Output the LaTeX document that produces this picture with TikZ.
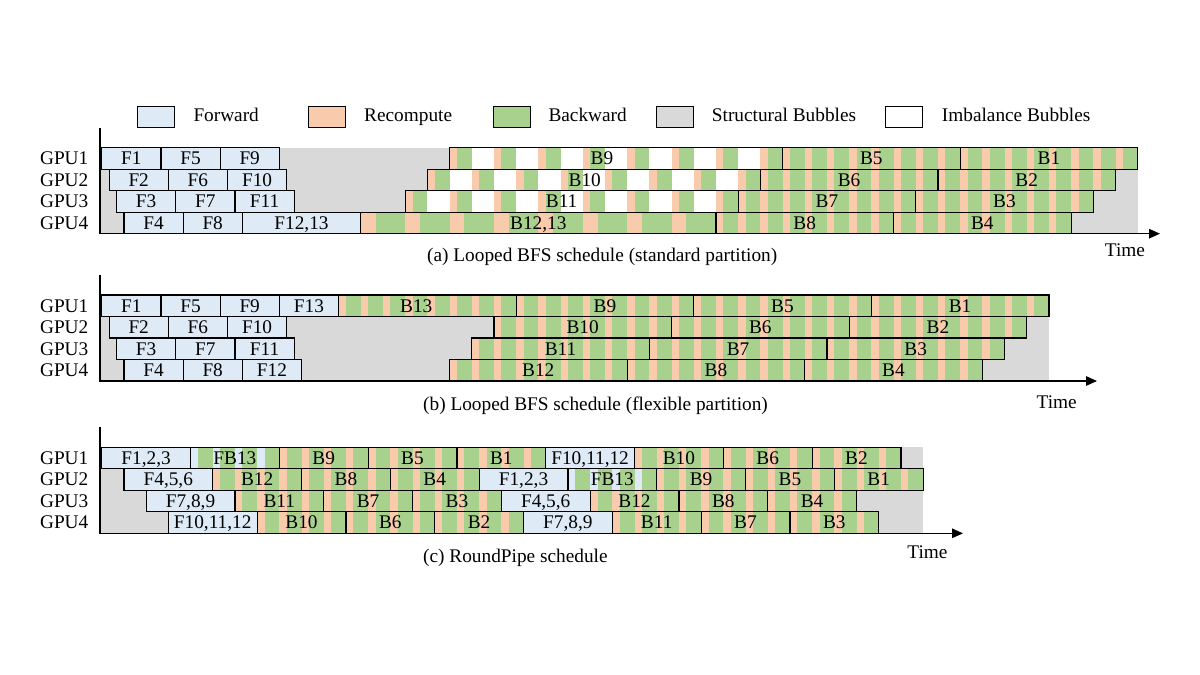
\documentclass[tikz,border=0pt]{standalone}
\usepackage{fontspec}
\setmainfont{Liberation Serif}
\usetikzlibrary{arrows.meta}
\definecolor{fwdc}{RGB}{222,235,247}
\definecolor{recc}{RGB}{248,203,173}
\definecolor{bwdc}{RGB}{169,209,142}
\definecolor{strc}{RGB}{217,217,217}
\pgfdeclarelayer{back}
\pgfdeclarelayer{bg}
\pgfsetlayers{back,bg,main}
\tikzset{
  txt/.style={font=\fontsize{19.3}{22}\selectfont, inner sep=0pt},
  lbl/.style={txt, text height=12.7pt, text depth=0pt},
  blk/.style={lbl, draw=black, line width=1.2pt},
  legbox/.style={draw=black, line width=1.2pt, minimum width=37pt, minimum height=20.5pt, inner sep=0pt},
  axisline/.style={line width=1.3pt},
}
% forward block: name, start, end, row, label
\newcommand{\Fblk}[5]{\node[blk, fill=fwdc, minimum width={((#3)-(#2))*7.4pt}, minimum height=21.5pt] (#1) at ({((#2)+(#3))/2},{(#4)+0.5}) {#5};}
% green base fill: start, end, row
\newcommand{\Gfill}[3]{\begin{pgfonlayer}{bg}\fill[bwdc] (#1,#3) rectangle ({#2},{#3+1});\end{pgfonlayer}}
% stripes: start, row, period, width, last index, colour
\newcommand{\Stripes}[6]{\begin{pgfonlayer}{bg}\foreach \k in {0,...,#5}{\fill[#6] ({#1+#3*\k},#2) rectangle ({#1+#3*\k+#4},{#2+1});}\end{pgfonlayer}}
% outline and label: name, start, end, row, label, xshift
\newcommand{\Bout}[6]{\node[blk, minimum width={((#3)-(#2))*7.4pt}, minimum height=21.5pt] (#1) at ({((#2)+(#3))/2},{(#4)+0.5}) {};
  \node[lbl, xshift=#6] (#1-t) at (#1.center) {#5};}
\newcommand{\Bns}[5]{\Gfill{#2}{#2+24}{#3}\Stripes{#2}{#3}{3}{1}{7}{recc}\Bout{#1}{#2}{#2+24}{#3}{#4}{#5}}
\newcommand{\Bn}[4]{\Bns{#1}{#2}{#3}{#4}{0pt}}
\newcommand{\Bc}[4]{\Gfill{#2}{#2+12}{#3}\Stripes{#2}{#3}{3}{1}{3}{recc}\Bout{#1}{#2}{#2+12}{#3}{#4}{0pt}}
\newcommand{\FBc}[4]{\Gfill{#2}{#2+12}{#3}\Stripes{#2}{#3}{3}{1}{3}{fwdc}\Bout{#1}{#2}{#2+12}{#3}{#4}{0pt}}
\newcommand{\Bbig}[4]{\Gfill{#2}{#2+48}{#3}\Stripes{#2}{#3}{6}{2}{7}{recc}\Bout{#1}{#2}{#2+48}{#3}{#4}{0pt}}
\newcommand{\Bimb}[5]{\Gfill{#2}{#2+45}{#3}\Stripes{#2}{#3}{6}{1}{7}{recc}\Stripes{#2+3}{#3}{6}{3}{6}{white}\Bout{#1}{#2}{#2+45}{#3}{#4}{#5}}

\begin{document}
\begin{tikzpicture}[x=1pt,y=-1pt]
\useasboundingbox (0,0) rectangle (1200,675);
\begin{pgfonlayer}{back}
\fill[white] (0,0) rectangle (1200,675);
\end{pgfonlayer}

% ---------------- legend
\node[legbox, fill=fwdc] (lg-f) at (155.8,117) {};
\node[txt, anchor=base west] (lg-ft) at (193.3,121.3) {Forward};
\node[legbox, fill=recc] (lg-r) at (327,117) {};
\node[txt, anchor=base west] (lg-rt) at (364,121.3) {Recompute};
\node[legbox, fill=bwdc] (lg-b) at (511.7,117) {};
\node[txt, anchor=base west] (lg-bt) at (548.3,121.3) {Backward};
\node[legbox, fill=strc] (lg-s) at (675,117) {};
\node[txt, anchor=base west] (lg-st) at (711.7,121.3) {Structural Bubbles};
\node[legbox, fill=white] (lg-i) at (904.2,117) {};
\node[txt, anchor=base west] (lg-it) at (941.7,121.3) {Imbalance Bubbles};

% ---------------- panel (a)
\begin{scope}[shift={(101.7pt,-147.7pt)}, x=7.4pt, y=-21.5pt]
\begin{pgfonlayer}{back}\fill[strc] (-0.25,0) rectangle (140,4);\end{pgfonlayer}
\foreach \r in {1,...,4} \node[lbl, anchor=east] (a-gpu\r) at (-1.78,\r-0.5) {GPU\r};
\Fblk{a-F1}{0}{8}{0}{F1}\Fblk{a-F5}{8}{16}{0}{F5}\Fblk{a-F9}{16}{24}{0}{F9}
\Fblk{a-F2}{1}{9}{1}{F2}\Fblk{a-F6}{9}{17}{1}{F6}\Fblk{a-F10}{17}{25}{1}{F10}
\Fblk{a-F3}{2}{10}{2}{F3}\Fblk{a-F7}{10}{18}{2}{F7}\Fblk{a-F11}{18}{26}{2}{F11}
\Fblk{a-F4}{3}{11}{3}{F4}\Fblk{a-F8}{11}{19}{3}{F8}\Fblk{a-F1213}{19}{35}{3}{F12,13}
\Bimb{a-B9}{47}{0}{B9}{-14pt}
\Bimb{a-B10}{44}{1}{B10}{-9pt}
\Bimb{a-B11}{41}{2}{B11}{-10pt}
\Bbig{a-B1213}{35}{3}{B12,13}
\Bn{a-B5}{92}{0}{B5}\Bn{a-B1}{116}{0}{B1}
\Bn{a-B6}{89}{1}{B6}\Bn{a-B2}{113}{1}{B2}
\Bn{a-B7}{86}{2}{B7}\Bn{a-B3}{110}{2}{B3}
\Bn{a-B8}{83}{3}{B8}\Bn{a-B4}{107}{3}{B4}
\end{scope}
\coordinate (a-top) at (100,128);
\coordinate (a-o) at (100,233.7);
\coordinate (a-end) at (1160,233.7);
\draw[axisline, -{Triangle[length=11pt,width=9.5pt]}] (a-top) -- (a-o) -- (a-end);
\node[txt, anchor=base] (a-time) at (1125,256.5) {Time};
\node[txt, anchor=base west] (a-cap) at (427,261) {(a) Looped BFS schedule (standard partition)};

% ---------------- panel (b)
\begin{scope}[shift={(101.7pt,-295pt)}, x=7.4pt, y=-21.5pt]
\begin{pgfonlayer}{back}\fill[strc] (-0.25,0) rectangle (128,4);\end{pgfonlayer}
\foreach \r in {1,...,4} \node[lbl, anchor=east] (b-gpu\r) at (-1.78,\r-0.5) {GPU\r};
\Fblk{b-F1}{0}{8}{0}{F1}\Fblk{b-F5}{8}{16}{0}{F5}\Fblk{b-F9}{16}{24}{0}{F9}\Fblk{b-F13}{24}{32}{0}{F13}
\Fblk{b-F2}{1}{9}{1}{F2}\Fblk{b-F6}{9}{17}{1}{F6}\Fblk{b-F10}{17}{25}{1}{F10}
\Fblk{b-F3}{2}{10}{2}{F3}\Fblk{b-F7}{10}{18}{2}{F7}\Fblk{b-F11}{18}{26}{2}{F11}
\Fblk{b-F4}{3}{11}{3}{F4}\Fblk{b-F8}{11}{19}{3}{F8}\Fblk{b-F12}{19}{27}{3}{F12}
\Bns{b-B13}{32}{0}{B13}{-11pt}\Bn{b-B9}{56}{0}{B9}\Bn{b-B5}{80}{0}{B5}\Bn{b-B1}{104}{0}{B1}
\Bn{b-B10}{53}{1}{B10}\Bn{b-B6}{77}{1}{B6}\Bn{b-B2}{101}{1}{B2}
\Bn{b-B11}{50}{2}{B11}\Bn{b-B7}{74}{2}{B7}\Bn{b-B3}{98}{2}{B3}
\Bn{b-B12}{47}{3}{B12}\Bn{b-B8}{71}{3}{B8}\Bn{b-B4}{95}{3}{B4}
\end{scope}
\coordinate (b-top) at (100,275);
\coordinate (b-o) at (100,381);
\coordinate (b-end) at (1097,381);
\draw[axisline, -{Triangle[length=11pt,width=9.5pt]}] (b-top) -- (b-o) -- (b-end);
\node[txt, anchor=base] (b-time) at (1056.7,408.3) {Time};
\node[txt, anchor=base west] (b-cap) at (423,410.5) {(b) Looped BFS schedule (flexible partition)};

% ---------------- panel (c)
\begin{scope}[shift={(101.7pt,-447.3pt)}, x=7.4pt, y=-21.5pt]
\begin{pgfonlayer}{back}\fill[strc] (-0.25,0) rectangle (111,4);\end{pgfonlayer}
\foreach \r in {1,...,4} \node[lbl, anchor=east] (c-gpu\r) at (-1.78,\r-0.5) {GPU\r};
% GPU1
\Fblk{c1-F123}{0}{12}{0}{F1,2,3}\FBc{c1-FB13}{12}{0}{FB13}\Bc{c1-B9}{24}{0}{B9}\Bc{c1-B5}{36}{0}{B5}\Bc{c1-B1}{48}{0}{B1}
\Fblk{c1-F101112}{60}{72}{0}{F10,11,12}\Bc{c1-B10}{72}{0}{B10}\Bc{c1-B6}{84}{0}{B6}\Bc{c1-B2}{96}{0}{B2}
% GPU2
\Fblk{c2-F456}{3}{15}{1}{F4,5,6}\Bc{c2-B12}{15}{1}{B12}\Bc{c2-B8}{27}{1}{B8}\Bc{c2-B4}{39}{1}{B4}
\Fblk{c2-F123}{51}{63}{1}{F1,2,3}\FBc{c2-FB13}{63}{1}{FB13}\Bc{c2-B9}{75}{1}{B9}\Bc{c2-B5}{87}{1}{B5}\Bc{c2-B1}{99}{1}{B1}
% GPU3
\Fblk{c3-F789}{6}{18}{2}{F7,8,9}\Bc{c3-B11}{18}{2}{B11}\Bc{c3-B7}{30}{2}{B7}\Bc{c3-B3}{42}{2}{B3}
\Fblk{c3-F456}{54}{66}{2}{F4,5,6}\Bc{c3-B12}{66}{2}{B12}\Bc{c3-B8}{78}{2}{B8}\Bc{c3-B4}{90}{2}{B4}
% GPU4
\Fblk{c4-F101112}{9}{21}{3}{F10,11,12}\Bc{c4-B10}{21}{3}{B10}\Bc{c4-B6}{33}{3}{B6}\Bc{c4-B2}{45}{3}{B2}
\Fblk{c4-F789}{57}{69}{3}{F7,8,9}\Bc{c4-B11}{69}{3}{B11}\Bc{c4-B7}{81}{3}{B7}\Bc{c4-B3}{93}{3}{B3}
\end{scope}
\coordinate (c-top) at (100,427);
\coordinate (c-o) at (100,533.3);
\coordinate (c-end) at (963,533.3);
\draw[axisline, -{Triangle[length=11pt,width=9.5pt]}] (c-top) -- (c-o) -- (c-end);
\node[txt, anchor=base] (c-time) at (927.5,558) {Time};
\node[txt, anchor=base west] (c-cap) at (423,562.5) {(c) RoundPipe schedule};
\end{tikzpicture}
\end{document}
